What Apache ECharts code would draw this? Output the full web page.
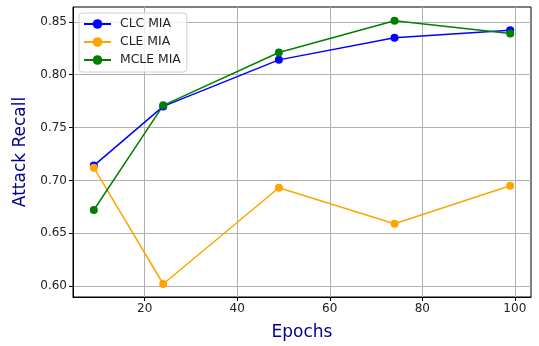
<!DOCTYPE html>
<html>
<head>
<meta charset="utf-8">
<script src="https://cdn.jsdelivr.net/npm/echarts@6/dist/echarts.min.js"></script>
<style>html,body{margin:0;padding:0;background:#fff}#c{width:539px;height:346px}</style>
</head>
<body>
<div id="c"></div>
<script>
const epochs = [9, 24, 49, 74, 99];
const clcMia = [0.714, 0.770, 0.814, 0.835, 0.842];
const cleMia = [0.712, 0.602, 0.693, 0.659, 0.695];
const mcleMia = [0.672, 0.771, 0.821, 0.851, 0.839];
const xTicks = [20, 40, 60, 80, 100];
const yTicks = [0.60, 0.65, 0.70, 0.75, 0.80, 0.85];

const pair = (ys) => epochs.map((x, i) => [x, ys[i]]);
const font = 'DejaVu Sans';
const mk = (name, color, ys) => ({
  name, type: 'line', data: pair(ys), color,
  symbol: 'circle', symbolSize: 8,
  lineStyle: { width: 1.5, color },
  itemStyle: { color },
  animation: false
});

const chart = echarts.init(document.getElementById('c'), null, { renderer: 'canvas' });
chart.setOption({
  animation: false,
  grid: { left: 73, right: 8, top: 7, bottom: 47, show: true, borderColor: '#000', borderWidth: 1, backgroundColor: 'transparent' },
  legend: {
    orient: 'vertical', left: 79, top: 13, itemWidth: 27, itemHeight: 12, itemGap: 6,
    padding: [5, 6, 6, 4], borderColor: '#d0d0d0', borderWidth: 1, borderRadius: 3,
    backgroundColor: 'rgba(255,255,255,0.8)',
    textStyle: { fontFamily: font, fontSize: 12.4, color: '#222', padding: [0, 0, 0, 4] },
    data: ['CLC MIA', 'CLE MIA', 'MCLE MIA']
  },
  xAxis: {
    type: 'value', min: 4.5, max: 103.5,
    name: 'Epochs', nameLocation: 'middle', nameGap: 27,
    nameTextStyle: { fontFamily: font, fontSize: 17, color: '#00008b' },
    axisLine: { show: true, lineStyle: { color: '#000', width: 1 } },
    axisTick: { show: true, inside: false, length: 4, customValues: xTicks, lineStyle: { color: '#000' } },
    axisLabel: { customValues: xTicks, fontFamily: font, fontSize: 12, color: '#222', margin: 6 },
    splitLine: { show: true, lineStyle: { color: '#b0b0b0', width: 1 } }
  },
  yAxis: {
    type: 'value', min: 0.5897, max: 0.864,
    name: 'Attack Recall', nameLocation: 'middle', nameGap: 43,
    nameTextStyle: { fontFamily: font, fontSize: 17, color: '#00008b' },
    axisLine: { show: true, lineStyle: { color: '#000', width: 1 } },
    axisTick: { show: true, inside: false, length: 4, customValues: yTicks, lineStyle: { color: '#000' } },
    axisLabel: { customValues: yTicks, fontFamily: font, fontSize: 12, color: '#222', margin: 6, formatter: v => v.toFixed(2) },
    splitLine: { show: true, lineStyle: { color: '#b0b0b0', width: 1 } }
  },
  series: [
    mk('CLC MIA', '#0000ff', clcMia),
    mk('CLE MIA', '#ffa500', cleMia),
    mk('MCLE MIA', '#008000', mcleMia)
  ]
});
</script>
</body>
</html>
